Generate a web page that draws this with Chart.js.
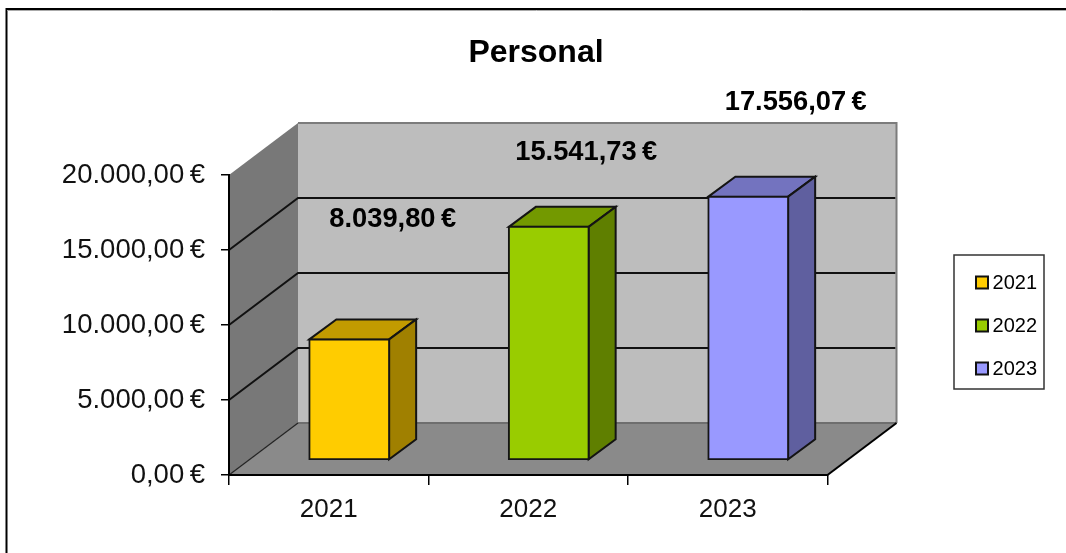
<!DOCTYPE html>
<html><head><meta charset="utf-8">
<script src="https://cdn.jsdelivr.net/npm/chart.js@4/dist/chart.umd.min.js"></script>
<style>html,body{margin:0;padding:0;background:#fff}canvas{display:block}</style>
</head><body><canvas id="c" width="1066" height="553"></canvas>
<script>
const categories = ['2021','2022','2023'];
const values = [8039.80, 15541.73, 17556.07];
const seriesNames = ['2021','2022','2023'];
const frontColors = ['#FFCC00','#99CC00','#9999FF'];
const topColors = ['#C29B00','#739900','#7373BF'];
const sideColors = ['#A08000','#5F7F00','#5F5F9F'];
const axisTicks = [0,5000,10000,15000,20000];

const FONT = '"Liberation Sans", Arial, sans-serif';
const euro = v => v.toFixed(2).replace('.',',').replace(/\B(?=(\d{3})+,)/g,'.') + '\u2009€';

const WALL = {dx:69, dy:52};
const BAR = {dx:20.5, dy:15, depthX:27, depthY:20};
const LABEL_SHIFT = [[43.5,-120],[37.5,-74],[47.5,-94]];
const LEGEND_MOVE = {x:-19, y:50};

function poly(ctx, pts, fill, stroke, lw){
  ctx.beginPath();
  pts.forEach((p,i)=> i?ctx.lineTo(p[0],p[1]):ctx.moveTo(p[0],p[1]));
  ctx.closePath();
  if(fill){ctx.fillStyle=fill;ctx.fill();}
  if(stroke){ctx.strokeStyle=stroke;ctx.lineWidth=lw||1;ctx.stroke();}
}
function line(ctx, pts, color, lw){
  ctx.beginPath();
  pts.forEach((p,i)=> i?ctx.lineTo(p[0],p[1]):ctx.moveTo(p[0],p[1]));
  ctx.strokeStyle=color;ctx.lineWidth=lw;ctx.stroke();
}

const walls3d = {
  id:'walls3d',
  afterLayout(chart){ chart.legend.left += LEGEND_MOVE.x; chart.legend.top += LEGEND_MOVE.y; chart.legend.bottom += LEGEND_MOVE.y; },
  beforeDraw(chart){
    const {ctx, chartArea:a, scales:{y}} = chart;
    const {dx,dy} = WALL;
    ctx.save();
    line(ctx,[[6.5,553],[6.5,9],[1066,9]],'#000',2);
    line(ctx,[[7,10.5],[1066,10.5]],'#aaa',1);
    // left wall, back wall, floor
    poly(ctx,[[a.left,a.bottom],[a.left,a.top],[a.left+dx,a.top-dy],[a.left+dx,a.bottom-dy]],'#787878');
    poly(ctx,[[a.left+dx,a.top-dy],[a.right+dx,a.top-dy],[a.right+dx,a.bottom-dy],[a.left+dx,a.bottom-dy]],'#BDBDBD');
    poly(ctx,[[a.left,a.bottom],[a.left+dx,a.bottom-dy],[a.right+dx,a.bottom-dy],[a.right,a.bottom]],'#8A8A8A');
    // gridlines across the walls
    axisTicks.forEach(v=>{
      if(v===0||v===20000) return;
      const p=y.getPixelForValue(v);
      line(ctx,[[a.left,p],[a.left+dx,p-dy],[a.right+dx-1,p-dy]],'#111',2);
    });
    line(ctx,[[a.left+dx,a.top-dy],[a.right+dx,a.top-dy],[a.right+dx,a.bottom-dy]],'#7c7c7c',2);
    line(ctx,[[a.left+dx,a.bottom-dy],[a.right+dx,a.bottom-dy]],'#6e6e6e',2);
    line(ctx,[[a.left,a.bottom],[a.left+dx,a.bottom-dy]],'#222',1.2);
    line(ctx,[[a.right,a.bottom],[a.right+dx,a.bottom-dy]],'#000',2);
    ctx.restore();
  },
  beforeDatasetsDraw(chart){
    const ctx=chart.ctx;
    ctx.save();
    ctx.translate(BAR.dx,-BAR.dy);
    // depth faces behind the library's front faces
    chart.data.datasets.forEach((ds,i)=>{
      const el=chart.getDatasetMeta(i).data[i];
      const l=el.x-el.width/2,r=el.x+el.width/2,t=el.y,b=el.base;
      const {depthX:x,depthY:d}=BAR;
      poly(ctx,[[l,t],[l+x,t-d],[r+x,t-d],[r,t]],topColors[i],'#141414',2);
      poly(ctx,[[r,t],[r+x,t-d],[r+x,b-d],[r,b]],sideColors[i],'#141414',2);
    });
  },
  afterDatasetsDraw(chart){ chart.ctx.restore(); },
  afterDraw(chart){
    const ctx=chart.ctx;
    ctx.save();
    // legend frame and swatches
    ctx.strokeStyle='#333';ctx.lineWidth=1.5;
    ctx.strokeRect(954,255,90,134);
    chart.legend.legendHitBoxes.forEach((h,i)=>{
      ctx.fillStyle=frontColors[i];
      ctx.fillRect(976,h.top+3,12,12);
      ctx.strokeStyle='#111';ctx.lineWidth=2;
      ctx.strokeRect(976,h.top+3,12,12);
    });
    // value labels
    ctx.font='bold 27.3px '+FONT;ctx.fillStyle='#000';
    ctx.textAlign='center';ctx.textBaseline='middle';
    chart.data.datasets.forEach((ds,i)=>{
      const el=chart.getDatasetMeta(i).data[i];
      ctx.fillText(euro(values[i]),el.x+BAR.dx+LABEL_SHIFT[i][0],el.y-BAR.dy+LABEL_SHIFT[i][1]);
    });
    ctx.restore();
  }
};

new Chart(document.getElementById('c'),{
  type:'bar',
  data:{
    labels:categories,
    datasets:seriesNames.map((name,i)=>({
      label:name,
      data:categories.map((c,j)=> j===i?values[i]:null),
      backgroundColor:frontColors[i],
      borderColor:'#141414',
      borderWidth:2,
      inflateAmount:1,
      borderSkipped:false,
      categoryPercentage:0.4,
      barPercentage:1
    }))
  },
  options:{
    responsive:false,
    animation:false,
    layout:{padding:{left:6,right:0,top:0,bottom:0}},
    plugins:{
      tooltip:{enabled:false},
      title:{display:true,text:'Personal',color:'#000',
        font:{family:FONT,size:32,weight:'bold',lineHeight:1.2},
        padding:{top:34,bottom:102.6}},
      legend:{display:true,position:'right',
        labels:{boxWidth:2,boxHeight:2,padding:23,color:'#111',
          font:{family:FONT,size:20},
          generateLabels:c=>c.data.datasets.map((d,i)=>({text:d.label,fillStyle:'transparent',strokeStyle:'transparent',lineWidth:0,datasetIndex:i}))}}
    },
    scales:{
      x:{stacked:true,
        afterFit(s){s.height=78;},
        grid:{drawOnChartArea:false,tickLength:10,color:'#000',lineWidth:1.5},
        border:{color:'#000',width:2},
        ticks:{color:'#111',padding:9,maxRotation:0,font:{family:FONT,size:26}}},
      y:{stacked:true,min:0,max:20000,
        afterFit(s){s.width=223;},
        afterBuildTicks(s){s.ticks=axisTicks.map(v=>({value:v}));},
        grid:{drawOnChartArea:false,tickLength:8,color:'#000',lineWidth:1.5},
        border:{color:'#000',width:2},
        ticks:{color:'#111',padding:16,font:{family:FONT,size:27.5},callback:v=>euro(v)}},
      gap:{position:'right',display:true,
        afterFit(s){s.width=149;},
        grid:{display:false},border:{display:false},ticks:{display:false}}
    }
  },
  plugins:[walls3d]
});
</script></body></html>
